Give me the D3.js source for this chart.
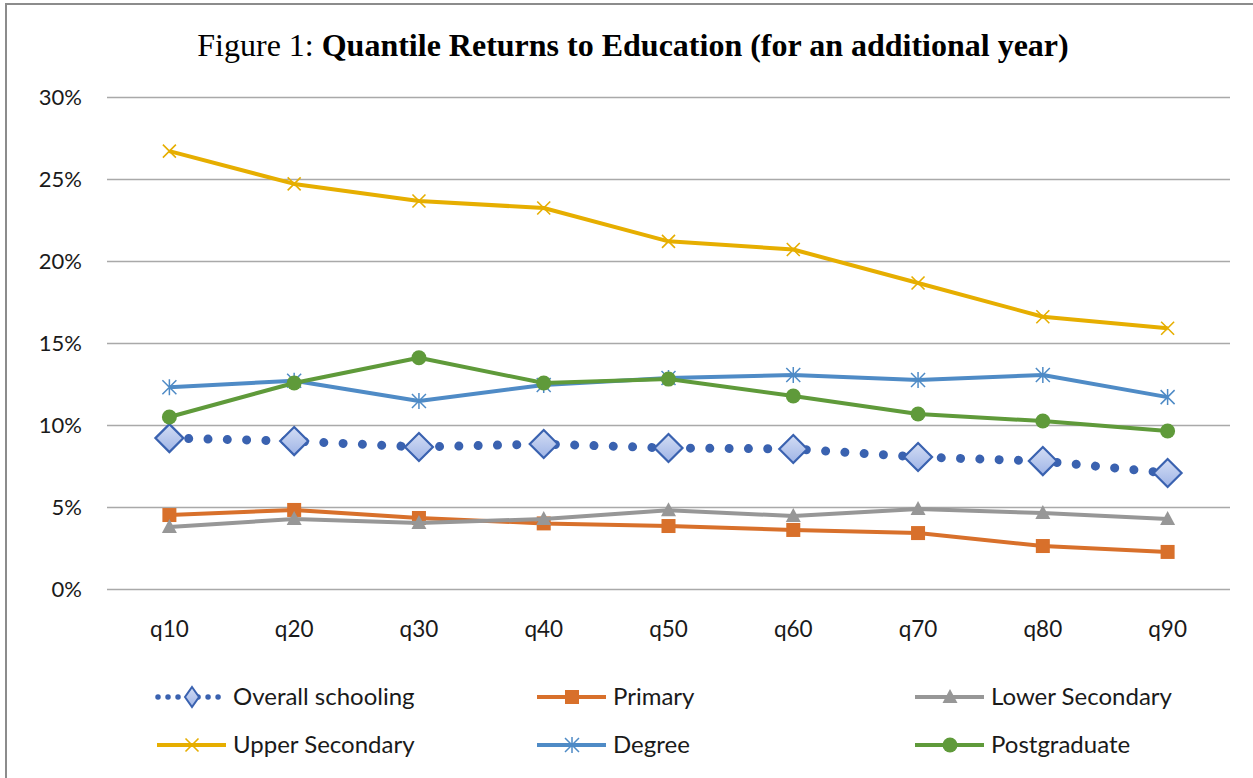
<!DOCTYPE html>
<html><head><meta charset="utf-8">
<script src="https://d3js.org/d3.v7.min.js"></script>
<style>body{margin:0;background:#fff}svg{display:block}</style>
</head><body>
<div id="chart"></div>
<script>
const categories = ["q10","q20","q30","q40","q50","q60","q70","q80","q90"];
const overallSchooling = [9.2, 9.02, 8.66, 8.84, 8.6, 8.54, 8.05, 7.8, 7.07];
const primary = [4.51, 4.82, 4.33, 4.0, 3.84, 3.6, 3.41, 2.62, 2.26];
const lowerSecondary = [3.78, 4.27, 4.02, 4.27, 4.8, 4.45, 4.88, 4.63, 4.27];
const upperSecondary = [26.7, 24.7, 23.66, 23.23, 21.2, 20.7, 18.66, 16.6, 15.9];
const degree = [12.3, 12.7, 11.46, 12.44, 12.87, 13.05, 12.74, 13.05, 11.7];
const postgraduate = [10.49, 12.56, 14.1, 12.56, 12.8, 11.77, 10.67, 10.24, 9.63];
const yTicks = [0, 5, 10, 15, 20, 25, 30];
const seriesNames = ["Overall schooling","Primary","Lower Secondary","Upper Secondary","Degree","Postgraduate"];

const series = [
  {name: seriesNames[0], values: overallSchooling, color: "#3a62b0", marker: "diamond", dotted: true},
  {name: seriesNames[1], values: primary, color: "#d8702b", marker: "square"},
  {name: seriesNames[2], values: lowerSecondary, color: "#979797", marker: "triangle"},
  {name: seriesNames[3], values: upperSecondary, color: "#e6ae00", marker: "x"},
  {name: seriesNames[4], values: degree, color: "#4f8bc6", marker: "star"},
  {name: seriesNames[5], values: postgraduate, color: "#5f9a3a", marker: "circle"}
];
const W = 1253, H = 778;
const svg = d3.select("#chart").append("svg").attr("width", W).attr("height", H);
const defs = svg.append("defs");
const grad = defs.append("linearGradient").attr("id","dgrad").attr("x1",0).attr("y1",0).attr("x2",0).attr("y2",1);
grad.append("stop").attr("offset","0%").attr("stop-color","#d3ddf4");
grad.append("stop").attr("offset","100%").attr("stop-color","#9fb4e6");

svg.append("rect").attr("x",6).attr("y",4).attr("width",1300).attr("height",900)
  .attr("fill","#fff").attr("stroke","#8c8c8c").attr("stroke-width",2);

const title = svg.append("text").attr("x",633).attr("y",56).attr("text-anchor","middle")
  .attr("font-family","'Liberation Serif', 'Times New Roman', serif").attr("font-size",32).attr("fill","#000");
title.append("tspan").text("Figure 1: ");
title.append("tspan").attr("font-weight","bold").text("Quantile Returns to Education (for an additional year)");

const pLeft = 107, pRight = 1230, pTop = 97, pBottom = 589;
const x = d3.scaleBand().domain(categories).range([pLeft, pRight]);
const y = d3.scaleLinear().domain([0, 30]).range([pBottom, pTop]);
const font = "Lato, 'Open Sans', sans-serif";

const gy = svg.append("g").attr("transform", `translate(${pLeft},0)`)
  .call(d3.axisLeft(y).tickValues(yTicks).tickSize(-(pRight-pLeft)).tickPadding(25).tickFormat(d => d + "%"));
gy.select(".domain").remove();
gy.selectAll(".tick line").attr("stroke","#a9a9a9").attr("stroke-width",1.5);
gy.selectAll(".tick text").attr("font-family",font).attr("font-size",22).attr("fill","#1a1a1a");

const gx = svg.append("g").attr("transform", `translate(0,${pBottom})`)
  .call(d3.axisBottom(x).tickSize(0).tickPadding(32));
gx.select(".domain").remove();
gx.selectAll(".tick text").attr("font-family",font).attr("font-size",22.5).attr("fill","#1a1a1a");

function drawMarker(g, type, color, cx, cy) {
  if (type === "diamond") {
    const s = 14;
    g.append("path").attr("d",`M${cx},${cy-s}L${cx+s},${cy}L${cx},${cy+s}L${cx-s},${cy}Z`)
      .attr("fill","url(#dgrad)").attr("stroke",color).attr("stroke-width",2.2);
  } else if (type === "square") {
    g.append("rect").attr("x",cx-7).attr("y",cy-7).attr("width",14).attr("height",14).attr("fill",color);
  } else if (type === "triangle") {
    g.append("path").attr("d",`M${cx},${cy-8}L${cx+7.5},${cy+6}L${cx-7.5},${cy+6}Z`).attr("fill",color);
  } else if (type === "circle") {
    g.append("circle").attr("cx",cx).attr("cy",cy).attr("r",7.5).attr("fill",color);
  } else if (type === "x") {
    const s = 6.5;
    g.append("path").attr("d",`M${cx-s},${cy-s}L${cx+s},${cy+s}M${cx-s},${cy+s}L${cx+s},${cy-s}`)
      .attr("stroke",color).attr("stroke-width",1.6).attr("fill","none");
  } else if (type === "star") {
    const s = 7;
    g.append("path").attr("d",`M${cx-s},${cy-s}L${cx+s},${cy+s}M${cx-s},${cy+s}L${cx+s},${cy-s}M${cx},${cy-s-1}L${cx},${cy+s+1}`)
      .attr("stroke",color).attr("stroke-width",1.5).attr("fill","none");
  }
}

const line = d3.line().x((d,i) => x(categories[i]) + x.bandwidth()/2).y(d => y(d));
const plot = svg.append("g");
series.forEach(s => {
  const g = plot.append("g");
  const p = g.append("path").datum(s.values).attr("d", line).attr("fill","none").attr("stroke", s.color);
  if (s.dotted) p.attr("stroke-width",9).attr("stroke-linecap","round").attr("stroke-dasharray","0.01 19.3");
  else p.attr("stroke-width",4).attr("stroke-linejoin","round");
  s.values.forEach((v,i) => drawMarker(g, s.marker, s.color, x(categories[i]) + x.bandwidth()/2, y(v)));
});

const legCols = [157, 537, 915];
const legRows = [697, 745];
series.forEach((s, i) => {
  const lx = legCols[i % 3], ly = legRows[Math.floor(i / 3)];
  const g = svg.append("g");
  const p = g.append("line").attr("x1",lx).attr("x2",lx+69).attr("y1",ly).attr("y2",ly).attr("stroke",s.color);
  if (s.dotted) p.attr("stroke-width",5.5).attr("stroke-linecap","round").attr("stroke-dasharray","0.01 10").attr("x1",lx+1);
  else p.attr("stroke-width",4);
  if (s.marker === "diamond") {
    const cx = lx+35, cy = ly, sz = 10;
    g.append("path").attr("d",`M${cx},${cy-sz}L${cx+7},${cy}L${cx},${cy+sz}L${cx-7},${cy}Z`)
      .attr("fill","url(#dgrad)").attr("stroke",s.color).attr("stroke-width",2);
  } else drawMarker(g, s.marker, s.color, lx+35, ly);
  g.append("text").attr("x",lx+76).attr("y",ly).attr("dy","0.35em")
    .attr("font-family",font).attr("font-size",24).attr("fill","#1a1a1a").text(s.name);
});
</script>
</body></html>
